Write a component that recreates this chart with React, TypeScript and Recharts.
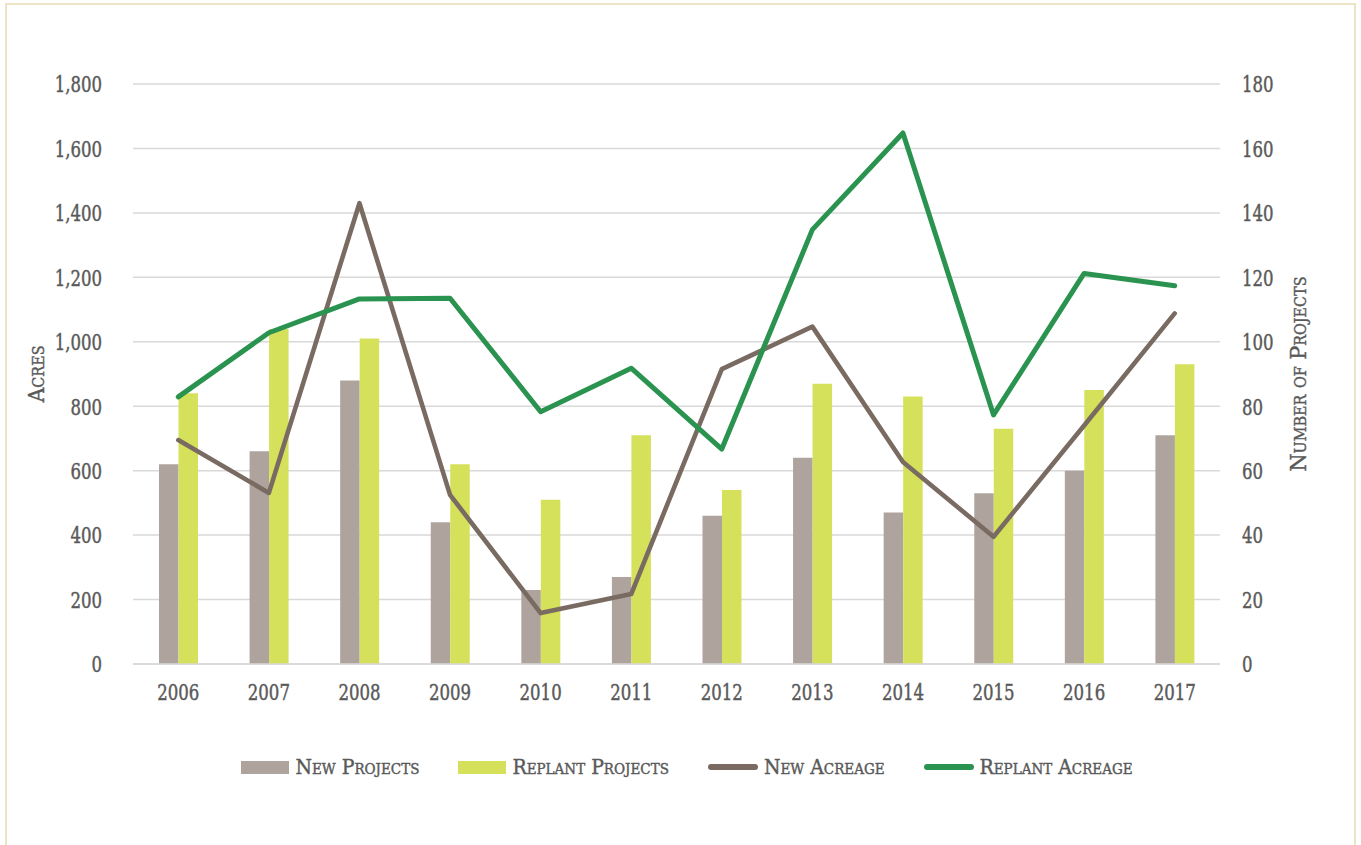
import React from 'react';
import { ComposedChart, Bar, Line, XAxis, YAxis, CartesianGrid, Legend, Label } from 'recharts';

const YEARS = ['2006', '2007', '2008', '2009', '2010', '2011', '2012', '2013', '2014', '2015', '2016', '2017'];
const NEW_PROJECTS = [62, 66, 88, 44, 23, 27, 46, 64, 47, 53, 60, 71];
const REPLANT_PROJECTS = [84, 104, 101, 62, 51, 71, 54, 87, 83, 73, 85, 93];
const NEW_ACREAGE = [695, 531, 1430, 525, 158, 217, 915, 1047, 627, 395, 740, 1088];
const REPLANT_ACREAGE = [829, 1028, 1133, 1135, 783, 918, 667, 1348, 1648, 773, 1212, 1174];
const ACRE_TICKS = [0, 200, 400, 600, 800, 1000, 1200, 1400, 1600, 1800];
const PROJECT_TICKS = [0, 20, 40, 60, 80, 100, 120, 140, 160, 180];

const FONT = "'DejaVu Serif Condensed', 'DejaVu Serif', serif";
const TEXT = '#595959';
const GRID = '#d9d9d9';
const SQUEEZE = 0.8; // reference uses a narrow slab face

const SERIES = [
  { key: 'newProjects', name: 'New Projects', color: '#aea39d', kind: 'bar' },
  { key: 'replantProjects', name: 'Replant Projects', color: '#d5e05b', kind: 'bar' },
  { key: 'newAcreage', name: 'New Acreage', color: '#7a6b62', kind: 'line' },
  { key: 'replantAcreage', name: 'Replant Acreage', color: '#2b9350', kind: 'line' },
];

const data = YEARS.map((year, i) => ({
  year,
  newProjects: NEW_PROJECTS[i],
  replantProjects: REPLANT_PROJECTS[i],
  newAcreage: NEW_ACREAGE[i],
  replantAcreage: REPLANT_ACREAGE[i],
}));

// narrow tick label: text squeezed horizontally around its anchor point
const NarrowTick = ({ x, y, payload, anchor, dy, fmt }: any) => (
  <g transform={`translate(${x},${y})`}>
    <text
      transform={`scale(${SQUEEZE},1)`}
      textAnchor={anchor}
      dy={dy}
      fill={TEXT}
      stroke={TEXT}
      strokeWidth={0.45}
      style={{ fontFamily: FONT, fontSize: 23, fontStretch: 'condensed' }}
    >
      {fmt ? fmt(payload.value) : payload.value}
    </text>
  </g>
);

const AxisTitle = ({ viewBox, value, dx }: any) => {
  const cx = viewBox.x + dx;
  const cy = viewBox.y + viewBox.height / 2;
  return (
    <text
      x={cx}
      y={cy}
      transform={`rotate(-90 ${cx} ${cy})`}
      textAnchor="middle"
      dominantBaseline="central"
      fill={TEXT}
      stroke={TEXT}
      strokeWidth={0.4}
      style={{ fontFamily: FONT, fontSize: 23, fontVariant: 'small-caps', fontStretch: 'condensed' }}
    >
      {value}
    </text>
  );
};

const LegendContent = () => (
  <div style={{ display: 'flex', justifyContent: 'center', alignItems: 'center', paddingLeft: 52, height: 30 }}>
    {SERIES.map((s) => (
      <div key={s.key} style={{ display: 'flex', alignItems: 'center', marginRight: 39 }}>
        {s.kind === 'bar' ? (
          <span style={{ display: 'inline-block', width: 48, height: 13, background: s.color }} />
        ) : (
          <span style={{ display: 'inline-block', width: 50, height: 6, borderRadius: 3, background: s.color }} />
        )}
        <span
          style={{
            marginLeft: 6,
            fontFamily: FONT,
            fontSize: 21,
            color: TEXT,
            fontVariant: 'small-caps',
            fontStretch: 'condensed',
            WebkitTextStroke: '0.4px #595959',
          }}
        >
          {s.name}
        </span>
      </div>
    ))}
  </div>
);

const fmtThousands = (v: number) => v.toLocaleString('en-US');

export default function App() {
  return (
    <div style={{ position: 'absolute', left: 0, top: 0, width: 1361, height: 845, background: '#fff', overflow: 'hidden' }}>
      <div style={{ position: 'absolute', left: 5, top: 3, width: 1351, height: 900, border: '2px solid #ece4c4', boxSizing: 'border-box' }} />
      <div style={{ position: 'absolute', left: 0, top: 0 }}>
        <ComposedChart width={1361} height={845} data={data} margin={{ top: 84, right: 0, bottom: 63, left: 0 }} barGap={0} barSize={19.5}>
          <CartesianGrid vertical={false} stroke={GRID} strokeWidth={1.5} yAxisId="acres" />
          <XAxis
            dataKey="year"
            height={88}
            tickLine={false}
            axisLine={{ stroke: GRID, strokeWidth: 1.5 }}
            tickSize={6}
            tickMargin={13}
            interval={0}
            tick={<NarrowTick anchor="middle" dy="0.72em" />}
          />
          <YAxis
            yAxisId="acres"
            orientation="left"
            width={133}
            domain={[0, 1800]}
            ticks={ACRE_TICKS}
            tickLine={false}
            axisLine={false}
            tickSize={6}
            tickMargin={25}
            tick={<NarrowTick anchor="end" dy="0.36em" fmt={fmtThousands} />}
          >
            <Label content={(p: any) => <AxisTitle {...p} value="Acres" dx={36} />} />
          </YAxis>
          <YAxis
            yAxisId="projects"
            orientation="right"
            width={141}
            domain={[0, 180]}
            ticks={PROJECT_TICKS}
            tickLine={false}
            axisLine={false}
            tickSize={6}
            tickMargin={16}
            tick={<NarrowTick anchor="start" dy="0.36em" />}
          >
            <Label content={(p: any) => <AxisTitle {...p} value="Number of Projects" dx={78} />} />
          </YAxis>
          <Legend verticalAlign="bottom" content={<LegendContent />} wrapperStyle={{ height: 30 }} />
          <Bar yAxisId="projects" dataKey="newProjects" name="New Projects" fill={SERIES[0].color} isAnimationActive={false} />
          <Bar yAxisId="projects" dataKey="replantProjects" name="Replant Projects" fill={SERIES[1].color} isAnimationActive={false} />
          <Line yAxisId="acres" dataKey="newAcreage" name="New Acreage" stroke={SERIES[2].color} strokeWidth={4.6} dot={false} activeDot={false} strokeLinecap="round" strokeLinejoin="round" isAnimationActive={false} />
          <Line yAxisId="acres" dataKey="replantAcreage" name="Replant Acreage" stroke={SERIES[3].color} strokeWidth={5} dot={false} activeDot={false} strokeLinecap="round" strokeLinejoin="round" isAnimationActive={false} />
        </ComposedChart>
      </div>
    </div>
  );
}
